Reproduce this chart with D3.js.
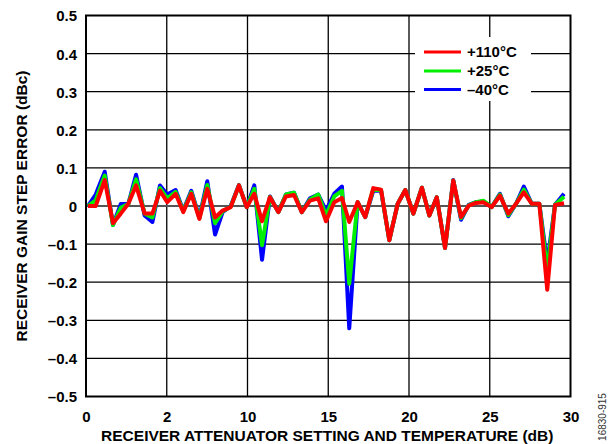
<!DOCTYPE html>
<html><head><meta charset="utf-8">
<script src="https://cdn.jsdelivr.net/npm/d3@7"></script>
<style>
html,body{margin:0;padding:0;background:#fff;}
svg text{font-family:"Liberation Sans",Arial,sans-serif;font-weight:bold;fill:#000;}
</style></head>
<body><svg id="c" width="614" height="444"></svg>
<script>
// attenuator setting (dB)
const xVals = [0.12,0.60,1.16,1.67,2.15,2.62,3.10,3.63,4.11,4.58,5.03,5.55,6.02,6.52,7.02,7.51,7.99,8.46,8.96,9.47,
  9.95,10.42,10.90,11.39,11.91,12.38,12.88,13.36,13.87,14.38,14.86,15.37,15.85,16.30,16.82,17.29,17.79,18.27,18.78,19.30,
  19.77,20.27,20.80,21.26,21.72,22.23,22.74,23.22,23.70,24.15,24.60,25.12,25.63,26.15,26.63,27.11,27.60,28.07,28.56,29.04,29.60];
const t110 = [0,0,0.068,-0.045,-0.02,0.006,0.054,-0.02,-0.02,0.04,0.01,0.032,-0.016,0.032,-0.034,0.045,-0.03,-0.012,-0.003,0.054,
  -0.003,0.032,-0.04,0.023,-0.016,0.025,0.029,-0.016,0.014,0.02,-0.04,0.01,0.021,-0.042,0.01,-0.029,0.047,0.043,-0.09,0.006,
  0.042,-0.02,0.048,-0.025,0.023,-0.11,0.067,-0.029,0.001,0.008,0.01,-0.003,0.027,-0.02,0.006,0.036,0.006,0.006,-0.22,0.003,0.007];
const t25 = [0,0.015,0.08,-0.05,-0.005,0.005,0.07,-0.02,-0.03,0.047,0.02,0.037,-0.014,0.036,-0.032,0.055,-0.045,-0.014,-0.002,0.054,
  -0.003,0.045,-0.103,0.024,-0.016,0.03,0.035,-0.016,0.017,0.03,-0.025,0.025,0.04,-0.204,0.01,-0.029,0.045,0.042,-0.09,0.006,
  0.042,-0.02,0.048,-0.025,0.023,-0.11,0.067,-0.032,0.002,0.01,0.014,-0.003,0.03,-0.024,0.006,0.043,0.006,0.006,-0.17,0.003,0.024];
const tm40 = [0,0.03,0.09,-0.05,0.005,0.005,0.082,-0.025,-0.042,0.054,0.03,0.042,-0.012,0.04,-0.03,0.065,-0.075,-0.016,0.0,0.055,
  -0.003,0.054,-0.141,0.025,-0.016,0.03,0.035,-0.016,0.02,0.03,-0.012,0.032,0.051,-0.321,0.01,-0.029,0.04,0.04,-0.09,0.006,
  0.042,-0.02,0.048,-0.025,0.023,-0.11,0.068,-0.036,0.003,0.01,0.012,-0.003,0.032,-0.027,0.006,0.051,0.006,0.006,-0.15,0.003,0.032];
const seriesNames = ["+110°C","+25°C","\u201340°C"];
const seriesColors = ["#ff0000","#00f000","#0000ff"];
const xTicks = [0,5,10,15,20,25,30];
const xTickLabels = ["0","2","10","15","20","25","30"];
const yTicks = [0.5,0.4,0.3,0.2,0.1,0,-0.1,-0.2,-0.3,-0.4,-0.5];
const yTickLabels = ["0.5","0.4","0.3","0.2","0.1","0","\u20130.1","\u20130.2","\u20130.3","\u20130.4","\u20130.5"];

const svg = d3.select("#c");
const L=86, R=570.5, T=15.5, B=396.5;
const x = d3.scaleLinear().domain([0,30]).range([L,R]);
const y = d3.scaleLinear().domain([-0.5,0.5]).range([B,T]);

// grid
const g = svg.append("g");
g.selectAll("line.v").data(xTicks.slice(1,-1)).join("line")
  .attr("x1",d=>x(d)).attr("x2",d=>x(d)).attr("y1",T).attr("y2",B)
  .attr("stroke","#000").attr("stroke-width",1.3);
g.selectAll("line.h").data(yTicks.filter(d=>d!==0.5&&d!==-0.5)).join("line")
  .attr("x1",L).attr("x2",R).attr("y1",d=>y(d)).attr("y2",d=>y(d))
  .attr("stroke",d=>d===0?"#555":"#000").attr("stroke-width",d=>d===0?1.8:1.3);

// legend background
svg.append("rect").attr("x",415).attr("y",37).attr("width",116).attr("height",64).attr("fill","#fff");

// series lines
const data = [t110,t25,tm40];
const line = d3.line().x((d,i)=>x(xVals[i])).y(d=>y(d));
[2,1,0].forEach(k=>{
  svg.append("path").datum(data[k]).attr("d",line)
    .attr("fill","none").attr("stroke",seriesColors[k]).attr("stroke-width",4)
    .attr("stroke-linejoin","round").attr("stroke-linecap","butt");
});

// frame
svg.append("rect").attr("x",L).attr("y",T).attr("width",R-L).attr("height",B-T)
  .attr("fill","none").attr("stroke","#000").attr("stroke-width",2);

// axes (labels via d3 axis)
const xAxis = d3.axisBottom(x).tickValues(xTicks).tickFormat((d,i)=>xTickLabels[i]).tickSize(0).tickPadding(0);
const xa = svg.append("g").attr("transform",`translate(0,${B})`).call(xAxis);
xa.select(".domain").remove();
xa.selectAll("text").attr("y",25).attr("dy",null).style("font-size","15px").style("font-family","Liberation Sans, Arial").style("font-weight","bold");

const yAxis = d3.axisLeft(y).tickValues(yTicks).tickFormat((d,i)=>yTickLabels[i]).tickSize(0).tickPadding(9);
const ya = svg.append("g").attr("transform",`translate(${L},0)`).call(yAxis);
ya.select(".domain").remove();
ya.selectAll("text").attr("dy","0.36em").style("font-size","15px").style("font-family","Liberation Sans, Arial").style("font-weight","bold");

// titles
svg.append("text").attr("x",(L+R)/2-1).attr("y",440.5).attr("text-anchor","middle")
  .style("font-size","15.5px").text("RECEIVER ATTENUATOR SETTING AND TEMPERATURE (dB)");
svg.append("text").attr("transform",`translate(27,${(T+B)/2}) rotate(-90)`).attr("text-anchor","middle")
  .style("font-size","15.5px").text("RECEIVER GAIN STEP ERROR (dBc)");

// legend
const ly = [52,71,89.5];
seriesNames.forEach((n,k)=>{
  svg.append("line").attr("x1",424).attr("x2",461).attr("y1",ly[k]).attr("y2",ly[k])
    .attr("stroke",seriesColors[k]).attr("stroke-width",3);
  svg.append("text").attr("x",467).attr("y",ly[k]).attr("dy","0.36em").style("font-size","15px").text(n);
});

// figure id
svg.append("text").attr("transform","translate(606,417) rotate(-90)").attr("text-anchor","middle")
  .style("font-size","10px").style("font-weight","normal").style("fill","#333").text("16830-915");
</script></body></html>
